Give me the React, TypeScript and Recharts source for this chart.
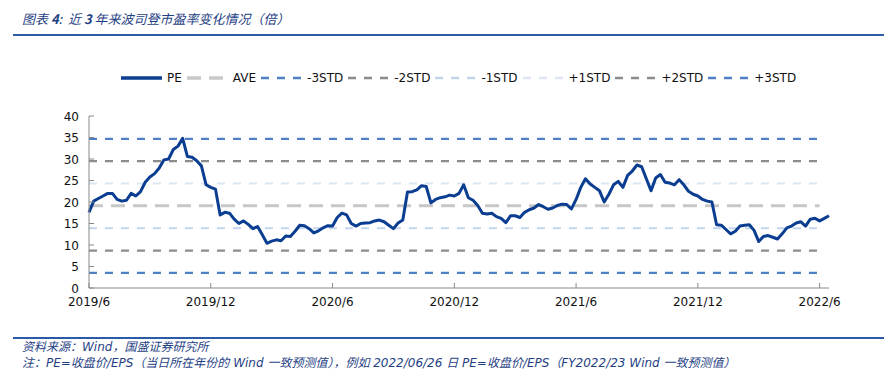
import React from "react";
import { LineChart, Line, XAxis, YAxis, Legend } from "recharts";

// x axis: weeks since 2019/6, one tick every half year
const tickWeeks = [0, 26, 52, 78, 104, 130, 156];
const tickLabels = ["2019/6", "2019/12", "2020/6", "2020/12", "2021/6", "2021/12", "2022/6"];
const yTicks = [0, 5, 10, 15, 20, 25, 30, 35, 40];

// weekly PE
const peWeekly = [
  17.6, 20.2, 20.8, 21.4, 22.0, 22.0, 20.6, 20.2, 20.4, 22.0,
  21.4, 22.4, 24.6, 25.8, 26.6, 27.9, 29.8, 30.0, 32.2, 33.0,
  34.8, 30.6, 30.4, 29.6, 28.4, 24.0, 23.4, 23.0, 17.0, 17.6,
  17.4, 16.0, 15.0, 15.6, 14.8, 13.8, 14.3, 12.4, 10.4, 10.9,
  11.2, 11.0, 12.1, 12.0, 13.2, 14.6, 14.5, 13.8, 12.8, 13.3,
  14.0, 14.5, 14.4, 16.4, 17.4, 17.0, 15.0, 14.4, 15.0, 15.1,
  15.2, 15.6, 15.8, 15.4, 14.6, 13.8, 15.1, 15.8, 22.3, 22.4,
  22.8, 23.8, 23.6, 19.8, 20.6, 21.0, 21.2, 21.6, 21.4, 22.0,
  24.0, 21.0, 20.4, 19.2, 17.4, 17.2, 17.4, 16.6, 16.2, 15.2,
  16.8, 16.8, 16.4, 17.6, 18.2, 18.6, 19.4, 18.9, 18.3, 18.6,
  19.2, 19.5, 19.4, 18.4, 20.6, 23.4, 25.4, 24.2, 23.4, 22.6,
  20.0, 21.8, 24.0, 24.8, 23.4, 26.2, 27.2, 28.6, 28.2, 25.4,
  22.6, 25.6, 26.4, 24.6, 24.4, 24.0, 25.2, 24.0, 22.5, 21.8,
  21.4, 20.6, 20.2, 20.0, 14.7, 14.6, 13.6, 12.6, 13.2, 14.4,
  14.6, 14.7, 13.4, 10.8, 12.0, 12.2, 11.8, 11.4, 12.6, 14.0,
  14.4, 15.1, 15.4, 14.4, 16.0, 16.2, 15.6, 16.2, 16.8,
];

const bandNames = ["AVE", "-3STD", "-2STD", "-1STD", "+1STD", "+2STD", "+3STD"];
const bandValues = [19.1, 3.5, 8.7, 13.9, 24.3, 29.5, 34.7];
const bandLastWeek = 156;

const legendOrder = ["PE", ...bandNames];

const seriesStyle: Record<string, { color: string; width: number; dash?: string }> = {
  PE: { color: "#0b3d91", width: 3 },
  AVE: { color: "#c8c8c8", width: 3, dash: "14 8" },
  "-3STD": { color: "#4f80c6", width: 2.2, dash: "8 8" },
  "-2STD": { color: "#8c8c8c", width: 2.2, dash: "8 8" },
  "-1STD": { color: "#c2d4ee", width: 2.2, dash: "8 8" },
  "+1STD": { color: "#dde6f4", width: 2.2, dash: "8 8" },
  "+2STD": { color: "#8c8c8c", width: 2.2, dash: "8 8" },
  "+3STD": { color: "#4f80c6", width: 2.2, dash: "8 8" },
};

const rows = peWeekly.map((pe, week) => {
  const row: Record<string, number | null> = { week, PE: pe };
  bandNames.forEach((name, i) => {
    row[name] = week <= bandLastWeek ? bandValues[i] : null;
  });
  return row;
});

const AXIS_COLOR = "#888888";
const TEXT_FONT = "'DejaVu Sans', Verdana, sans-serif";
const CJK_FONT = "'Noto Sans CJK SC', sans-serif";
const NOTE_FONT = "'DejaVu Sans', 'Noto Sans CJK SC', sans-serif";
const X_MARGIN = 9;
const Y_MARGIN = 10;

function XTick({ x, y, payload }: any) {
  const axisY = y - X_MARGIN;
  const idx = tickWeeks.indexOf(payload.value);
  return (
    <g>
      <line x1={x} x2={x} y1={axisY} y2={axisY - 5} stroke={AXIS_COLOR} />
      <text x={x} y={y} dy={8.5} textAnchor="middle" fontSize={12} fontFamily={TEXT_FONT} fill="#111">
        {tickLabels[idx]}
      </text>
    </g>
  );
}

function YTick({ x, y, payload }: any) {
  const axisX = x + Y_MARGIN;
  return (
    <g>
      <line x1={axisX} x2={axisX + 5} y1={y} y2={y} stroke={AXIS_COLOR} />
      <text x={x} y={y} dy={4.5} textAnchor="end" fontSize={12} fontFamily={TEXT_FONT} fill="#111">
        {payload.value}
      </text>
    </g>
  );
}

function LegendContent({ payload }: any) {
  const items = legendOrder
    .map((name) => (payload || []).find((p: any) => p.value === name))
    .filter(Boolean);
  return (
    <div style={{ display: "flex", alignItems: "center", height: 16 }}>
      {items.map((item: any) => {
        const s = seriesStyle[item.value];
        return (
          <div key={item.value} style={{ display: "flex", alignItems: "center", marginRight: 5 }}>
            <svg width={41} height={10}>
              <line
                x1={0}
                x2={41}
                y1={5}
                y2={5}
                stroke={s.color}
                strokeWidth={s.width + 0.5}
                strokeDasharray={s.dash}
              />
            </svg>
            <span
              style={{
                marginLeft: 5,
                fontSize: 12,
                fontFamily: TEXT_FONT,
                color: "#111",
                lineHeight: "16px",
              }}
            >
              {item.value}
            </span>
          </div>
        );
      })}
    </div>
  );
}

export default function App() {
  return (
    <div
      style={{
        position: "absolute",
        left: 0,
        top: 0,
        width: 884,
        height: 376,
        background: "#fff",
        overflow: "hidden",
      }}
    >
      <div
        style={{
          position: "absolute",
          left: 22,
          top: 9,
          fontFamily: CJK_FONT,
          fontStyle: "italic",
          fontSize: 13,
          color: "#1f3f84",
          whiteSpace: "pre",
        }}
      >
        图表 <b>4</b>:  近 <b>3</b> 年来波司登市盈率变化情况（倍）
      </div>
      <div
        style={{
          position: "absolute",
          left: 13,
          top: 34,
          width: 871,
          height: 2,
          background: "#2b5aa6",
        }}
      />

      <LineChart
        width={884}
        height={376}
        data={rows}
        margin={{ top: 116, right: 55, bottom: 58, left: 29 }}
      >
        <XAxis
          dataKey="week"
          type="number"
          domain={[0, 158]}
          ticks={tickWeeks}
          interval={0}
          height={30}
          tickLine={false}
          tickSize={0}
          tickMargin={X_MARGIN}
          axisLine={{ stroke: AXIS_COLOR }}
          tick={<XTick />}
        />
        <YAxis
          type="number"
          domain={[0, 40]}
          ticks={yTicks}
          interval={0}
          width={60}
          tickLine={false}
          tickSize={0}
          tickMargin={Y_MARGIN}
          axisLine={{ stroke: AXIS_COLOR }}
          tick={<YTick />}
        />
        <Legend
          layout="horizontal"
          verticalAlign="middle"
          align="center"
          wrapperStyle={{ left: 121, top: 70, width: 740 }}
          content={<LegendContent />}
        />
        {bandNames.map((name) => (
          <Line
            key={name}
            dataKey={name}
            name={name}
            type="linear"
            stroke={seriesStyle[name].color}
            strokeWidth={seriesStyle[name].width}
            strokeDasharray={seriesStyle[name].dash}
            dot={false}
            activeDot={false}
            isAnimationActive={false}
          />
        ))}
        <Line
          dataKey="PE"
          name="PE"
          type="linear"
          stroke={seriesStyle.PE.color}
          strokeWidth={seriesStyle.PE.width}
          strokeLinejoin="round"
          dot={false}
          activeDot={false}
          isAnimationActive={false}
        />
      </LineChart>

      <div
        style={{
          position: "absolute",
          left: 13,
          top: 337,
          width: 871,
          height: 1.5,
          background: "#2b5aa6",
        }}
      />
      <div
        style={{
          position: "absolute",
          left: 22,
          top: 339,
          fontFamily: NOTE_FONT,
          fontStyle: "italic",
          fontSize: 12,
          lineHeight: "16px",
          color: "#1f3f84",
          whiteSpace: "pre",
        }}
      >
        <div>资料来源：Wind，国盛证券研究所</div>
        <div>注：PE=收盘价/EPS（当日所在年份的 Wind 一致预测值），例如 2022/06/26 日 PE=收盘价/EPS（FY2022/23 Wind 一致预测值）</div>
      </div>
    </div>
  );
}
